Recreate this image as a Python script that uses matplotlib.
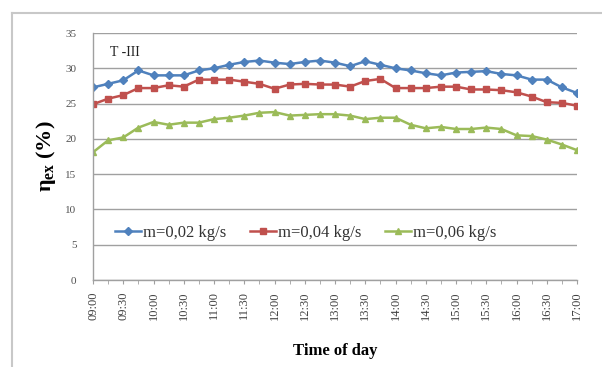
import numpy as np
import matplotlib
matplotlib.use("Agg")
import matplotlib.pyplot as plt
from matplotlib.lines import Line2D

plt.rcParams['font.family'] = ['Liberation Serif', 'DejaVu Serif']
plt.rcParams['mathtext.fontset'] = 'custom'
plt.rcParams['mathtext.rm'] = 'Liberation Serif'
plt.rcParams['mathtext.it'] = 'Liberation Serif:italic'
plt.rcParams['mathtext.bf'] = 'Liberation Serif:bold'

# 15-minute readings from 09:00 to 17:00
times = ['09:00', '09:15', '09:30', '09:45', '10:00', '10:15', '10:30', '10:45',
         '11:00', '11:15', '11:30', '11:45', '12:00', '12:15', '12:30', '12:45',
         '13:00', '13:15', '13:30', '13:45', '14:00', '14:15', '14:30', '14:45',
         '15:00', '15:15', '15:30', '15:45', '16:00', '16:15', '16:30', '16:45',
         '17:00']

eta_002 = [27.3, 27.8, 28.3, 29.7, 29.0, 29.0, 29.0, 29.7, 30.0, 30.5, 30.9,
           31.1, 30.8, 30.6, 30.9, 31.1, 30.8, 30.3, 31.0, 30.5, 30.0, 29.7,
           29.3, 29.0, 29.4, 29.5, 29.6, 29.2, 29.0, 28.4, 28.4, 27.3, 26.5]
eta_004 = [24.9, 25.7, 26.2, 27.2, 27.2, 27.6, 27.4, 28.4, 28.4, 28.4, 28.1,
           27.8, 27.1, 27.7, 27.8, 27.7, 27.7, 27.4, 28.2, 28.5, 27.2, 27.2,
           27.2, 27.4, 27.4, 27.0, 27.0, 26.9, 26.6, 26.0, 25.2, 25.1, 24.7]
eta_006 = [18.1, 19.8, 20.2, 21.6, 22.4, 22.0, 22.3, 22.3, 22.8, 23.0, 23.3,
           23.7, 23.8, 23.3, 23.4, 23.5, 23.5, 23.3, 22.8, 23.0, 23.0, 22.0,
           21.5, 21.7, 21.4, 21.4, 21.6, 21.4, 20.5, 20.4, 19.9, 19.2, 18.4]

series = [
    (eta_002, 'm=0,02 kg/s', '#4F81BD', 'D', 4.5),
    (eta_004, 'm=0,04 kg/s', '#C0504D', 's', 5.0),
    (eta_006, 'm=0,06 kg/s', '#9BBB59', '^', 5.0),
]

fig = plt.figure(figsize=(6.02, 3.67), dpi=100)
ax = fig.add_axes([0.1545, 0.237, 0.804, 0.673])

x = np.arange(len(times))
for vals, lab, col, mk, ms in series:
    ax.plot(x, vals, color=col, marker=mk, markersize=ms, linewidth=1.8,
            markeredgecolor=col, label=lab)

ax.set_xlim(0, len(times) - 1)
ax.set_ylim(0, 35)
ax.set_yticks(np.arange(0, 36, 5))
ax.yaxis.grid(True, color='#a0a0a0', linewidth=1.0)
ax.set_axisbelow(True)

ax.set_xticks(x[::2])
ax.set_xticklabels(times[::2], rotation=90, fontsize=9, color='#404040')
ax.set_xticks(x, minor=True)
ax.tick_params(axis='x', which='both', length=3, color='#a0a0a0', pad=5)
ax.tick_params(axis='y', length=0, labelsize=8, labelcolor='#505050', pad=12)

for side in ['top', 'right']:
    ax.spines[side].set_visible(False)
for side in ['left', 'bottom']:
    ax.spines[side].set_color('#a0a0a0')
    ax.spines[side].set_linewidth(1.0)

ax.set_ylabel(r'$\mathbf{\eta_{ex}}$ (%)', fontsize=16, fontweight='bold')
ax.yaxis.set_label_coords(-0.072, 0.5)
ax.set_xlabel('Time of day', fontsize=12, fontweight='bold')
ax.xaxis.set_label_coords(0.5, -0.255)

ax.text(0.035, 0.923, 'T -III', transform=ax.transAxes, fontsize=10,
        va='center', ha='left', color='#222222')

leg = ax.legend(loc='center', bbox_to_anchor=(0.439, 0.19), ncol=3,
                frameon=False, fontsize=12, handlelength=1.6,
                handletextpad=0.1, columnspacing=1.4)
for t in leg.get_texts():
    t.set_color('#333333')

# outer chart frame
fig.add_artist(Line2D([12 / 602, 12 / 602], [0.0, 1 - 13 / 367],
                      transform=fig.transFigure, color='#c8c8c8', linewidth=1.5))
fig.add_artist(Line2D([12 / 602, 1.0], [1 - 13 / 367, 1 - 13 / 367],
                      transform=fig.transFigure, color='#c8c8c8', linewidth=1.5))

fig.savefig('out.png', dpi=100, facecolor='white')
